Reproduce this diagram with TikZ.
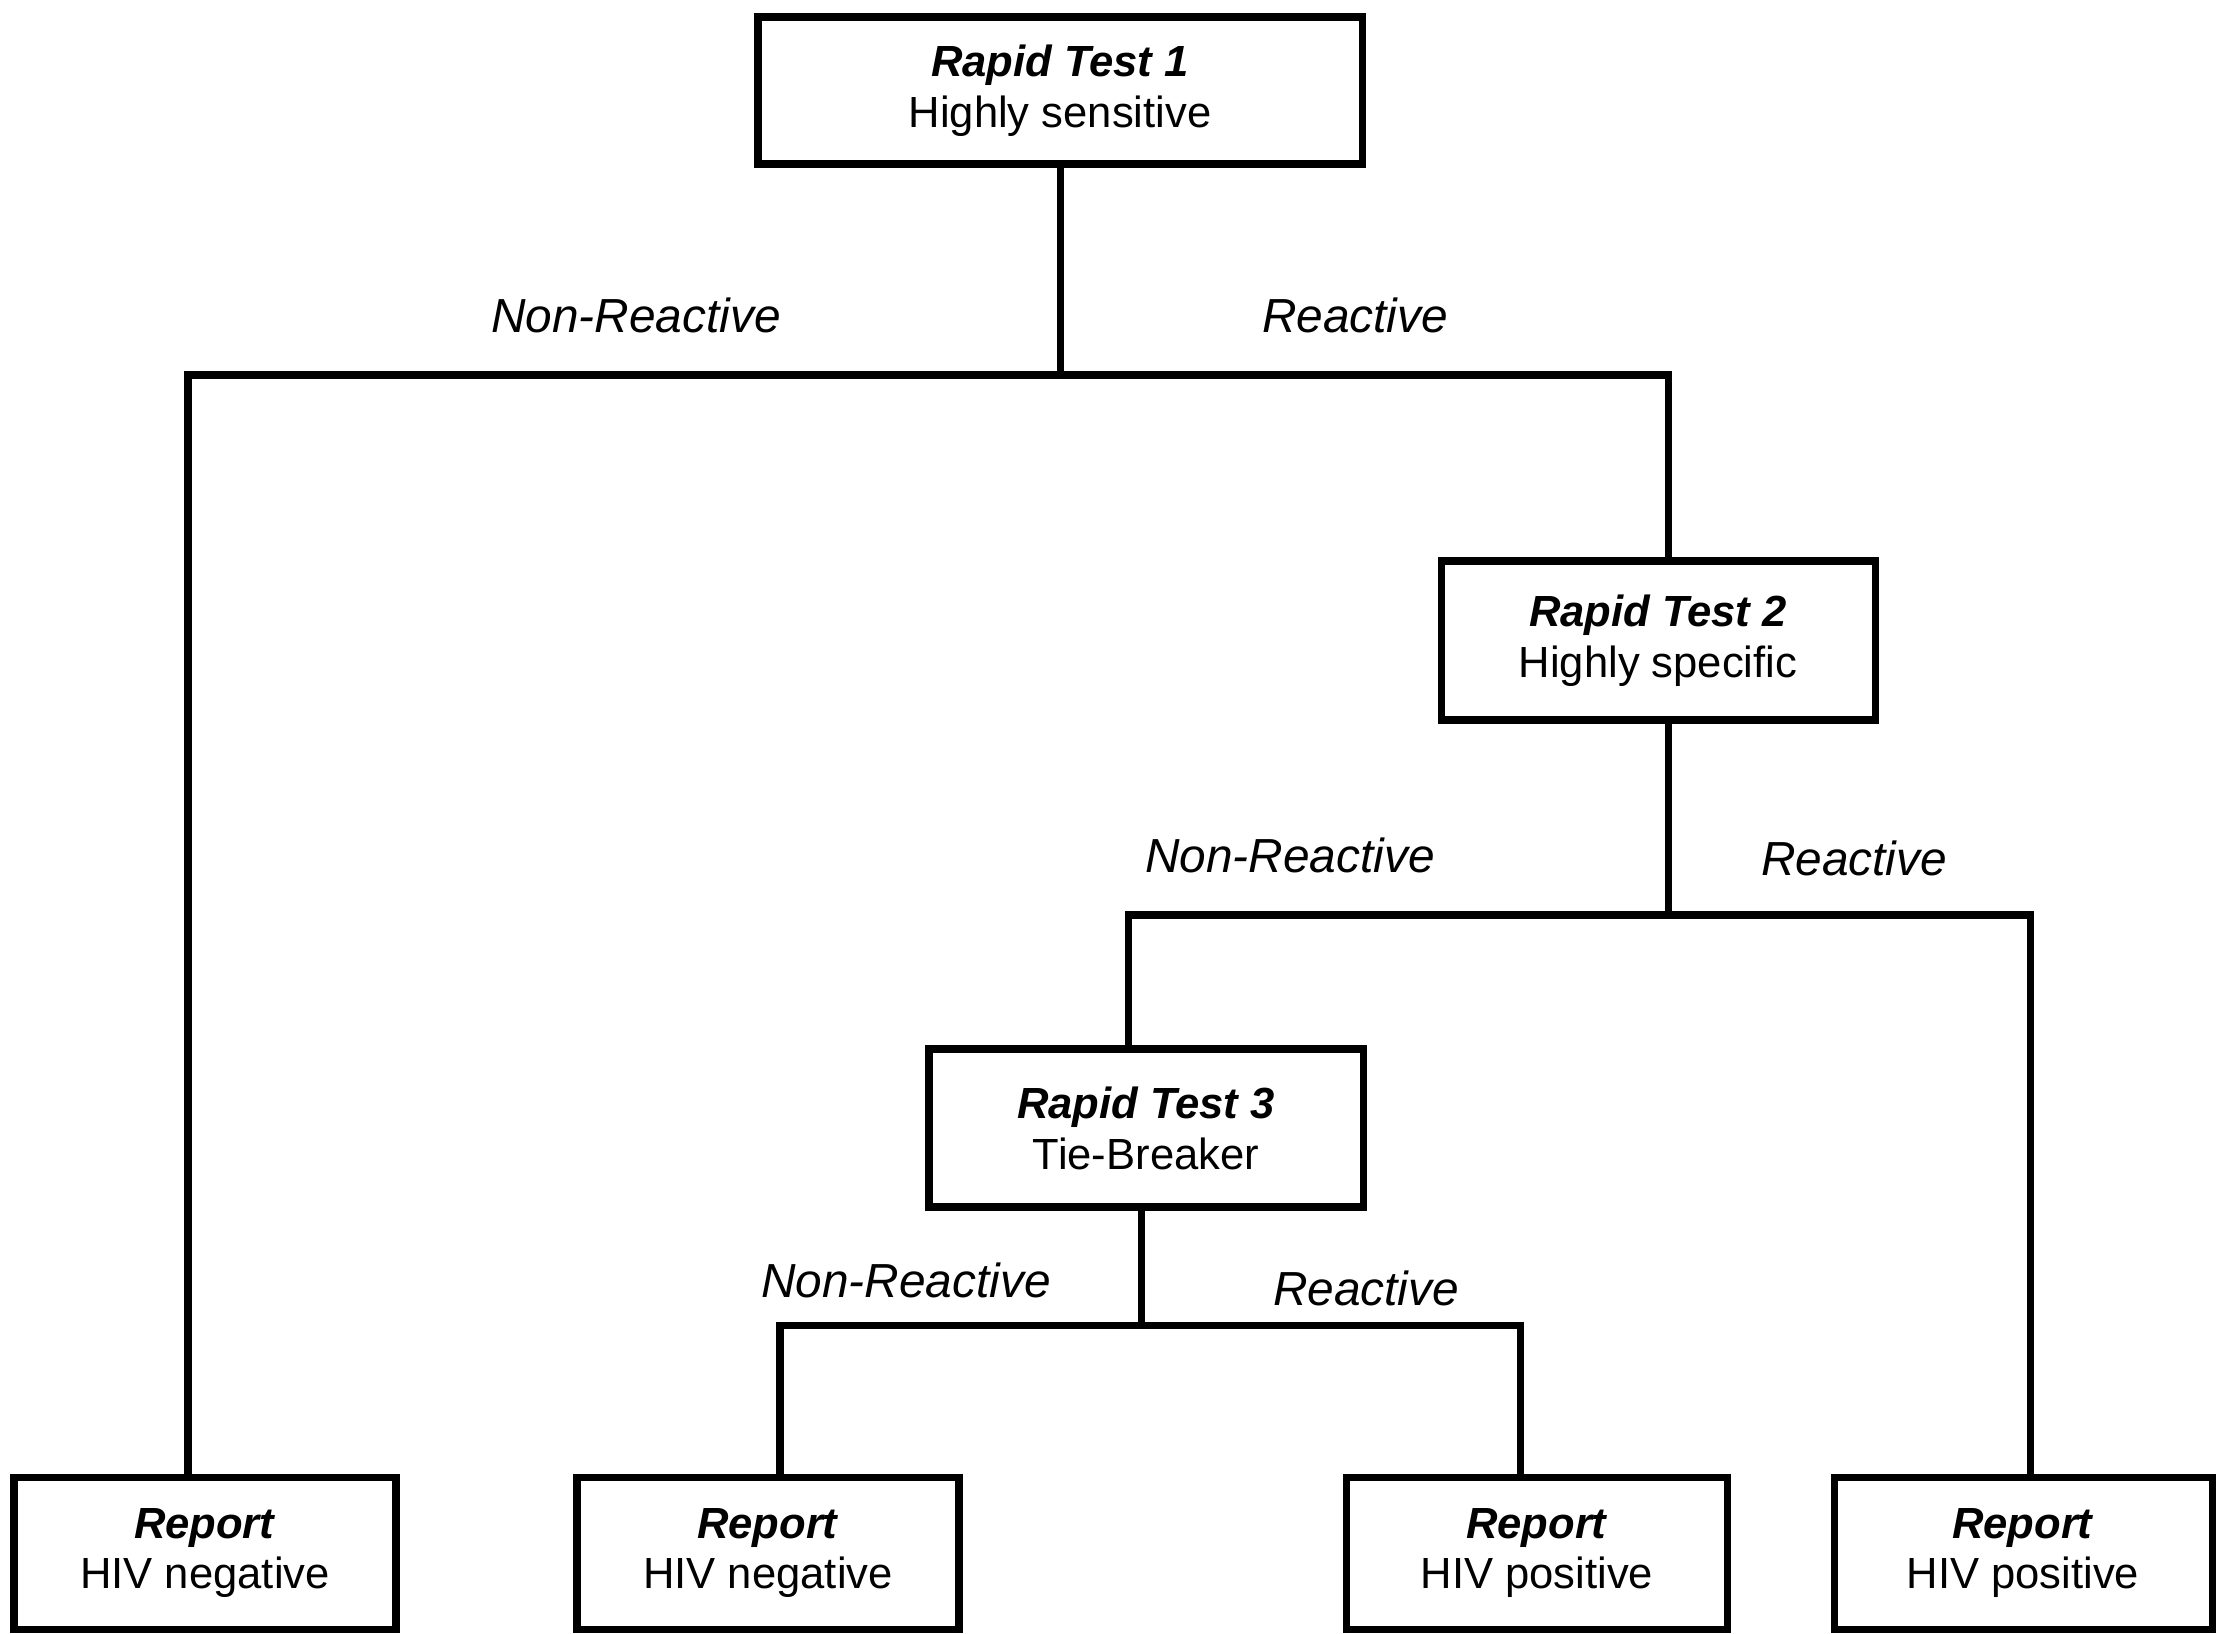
\documentclass[tikz,border=0pt]{standalone}
\usepackage{fontspec}
\setmainfont{Liberation Sans}
\begin{document}
\begin{tikzpicture}[every path/.style={line width=2pt},
    testbox/.style={draw, rectangle, inner sep=0pt, align=center,
        font=\fontsize{12.4}{14.5}\selectfont},
    branch/.style={font=\fontsize{13.6}{16}\selectfont\itshape}]
    \useasboundingbox (0,0) rectangle (22.17,-16.34);
    % tests
    \node[testbox, minimum width=6.04cm, minimum height=1.47cm] (t1) at (10.60,-0.905)
        {\textbf{\textit{Rapid Test 1}}\\Highly sensitive};
    \node[testbox, minimum width=4.34cm, minimum height=1.59cm] (t2) at (16.58,-6.405)
        {\textbf{\textit{Rapid Test 2}}\\Highly specific};
    \node[testbox, minimum width=4.34cm, minimum height=1.58cm] (t3) at (11.46,-11.28)
        {\textbf{\textit{Rapid Test 3}}\\Tie-Breaker};
    % reports
    \node[testbox, minimum width=3.82cm, minimum height=1.52cm] (r1) at (2.05,-15.53)
        {\textbf{\textit{Report}}\\HIV negative};
    \node[testbox, minimum width=3.82cm, minimum height=1.52cm] (r2) at (7.68,-15.53)
        {\textbf{\textit{Report}}\\HIV negative};
    \node[testbox, minimum width=3.81cm, minimum height=1.52cm] (r3) at (15.37,-15.53)
        {\textbf{\textit{Report}}\\HIV positive};
    \node[testbox, minimum width=3.78cm, minimum height=1.52cm] (r4) at (20.23,-15.53)
        {\textbf{\textit{Report}}\\HIV positive};
    % branches
    \coordinate (a1) at (1.88,-3.75);
    \coordinate (b1) at (16.68,-3.75);
    \draw (t1.south) -- (t1.south |- a1);
    \draw (r1.north -| a1) -- (a1) -- (b1) -- (t2.north -| b1);
    \coordinate (a2) at (11.28,-9.15);
    \coordinate (b2) at (20.30,-9.15);
    \coordinate (c2) at (16.68,-9.15);
    \draw (t2.south -| c2) -- (c2);
    \draw (t3.north -| a2) -- (a2) -- (b2) -- (r4.north -| b2);
    \coordinate (a3) at (7.80,-13.25);
    \coordinate (b3) at (15.20,-13.25);
    \coordinate (c3) at (11.41,-13.25);
    \draw (t3.south -| c3) -- (c3);
    \draw (r2.north -| a3) -- (a3) -- (b3) -- (r3.north -| b3);
    % labels
    \node[branch] (n1) at (6.36,-3.15) {Non-Reactive};
    \node[branch] (p1) at (13.55,-3.15) {Reactive};
    \node[branch] (n2) at (12.90,-8.55) {Non-Reactive};
    \node[branch] (p2) at (18.54,-8.58) {Reactive};
    \node[branch] (n3) at (9.06,-12.80) {Non-Reactive};
    \node[branch] (p3) at (13.66,-12.88) {Reactive};
\end{tikzpicture}
\end{document}
